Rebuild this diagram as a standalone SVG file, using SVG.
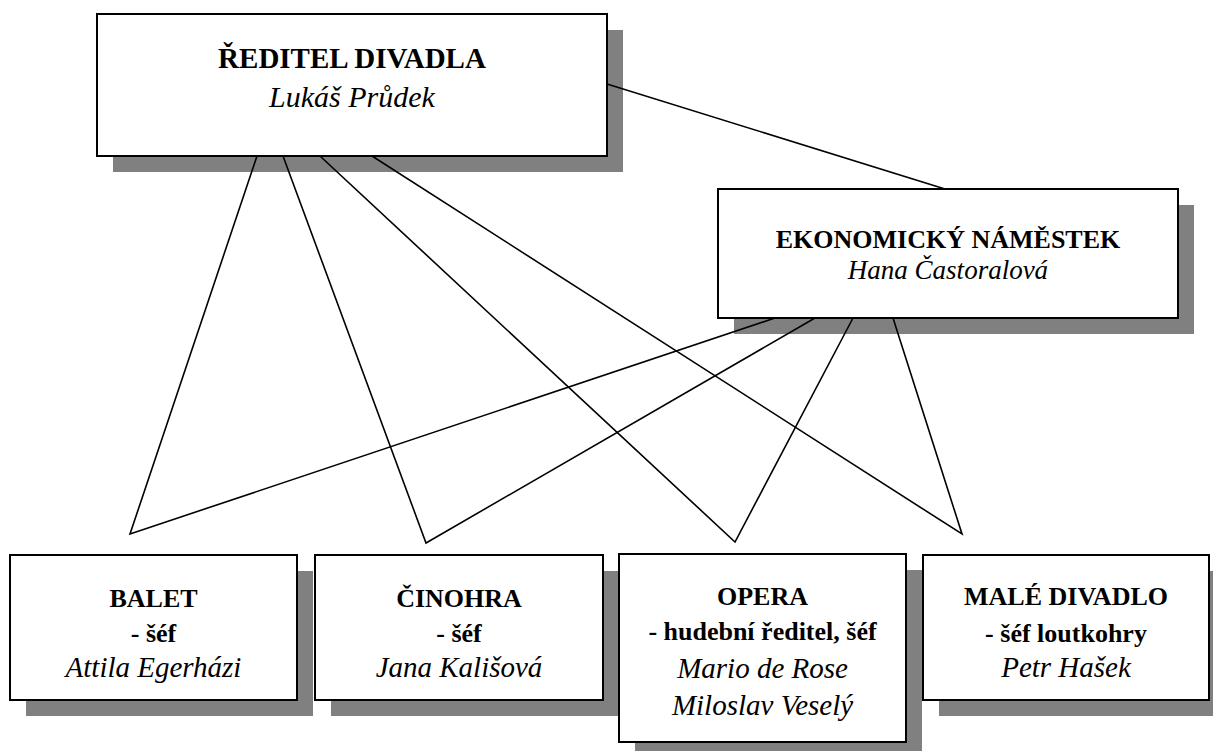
<svg xmlns="http://www.w3.org/2000/svg" width="1213" height="751" viewBox="0 0 1213 751">
<style>
.sh{fill:#808080;stroke:none}
.bx{fill:#fff;stroke:#000;stroke-width:2}
text{font-family:'Liberation Serif','Times New Roman',serif;text-anchor:middle;fill:#000}
.b{font-weight:bold;font-size:26px}
.i{font-style:italic;font-size:29px}
.ln{stroke:#000;stroke-width:1.6;fill:none}
</style>
<rect width="1213" height="751" fill="#fff"/>
<g id="reditel">
<rect class="sh" x="113" y="30" width="510" height="142"/>
<rect class="bx" x="97" y="14" width="510" height="142"/>
<text class="b" x="352" y="68" style="font-size:29px">ŘEDITEL DIVADLA</text>
<text class="i" x="352" y="107" style="font-size:30px">Lukáš Průdek</text>
</g>
<g id="ekonom">
<rect class="sh" x="734" y="205" width="460" height="129"/>
<rect class="bx" x="718" y="189" width="460" height="129"/>
<text class="b" x="948" y="248">EKONOMICKÝ NÁMĚSTEK</text>
<text class="i" x="948" y="279" style="font-size:27px">Hana Častoralová</text>
</g>
<g id="balet">
<rect class="sh" x="26" y="571" width="287" height="145"/>
<rect class="bx" x="10" y="555" width="287" height="145"/>
<text class="b" x="153.5" y="607">BALET</text>
<text class="b" x="153.5" y="642">- šéf</text>
<text class="i" x="153.5" y="677">Attila Egerházi</text>
</g>
<g id="cinohra">
<rect class="sh" x="331" y="571" width="288" height="145"/>
<rect class="bx" x="315" y="555" width="288" height="145"/>
<text class="b" x="459" y="607">ČINOHRA</text>
<text class="b" x="459" y="642">- šéf</text>
<text class="i" x="459" y="677">Jana Kališová</text>
</g>
<g id="opera">
<rect class="sh" x="635" y="570" width="287" height="188"/>
<rect class="bx" x="619" y="554" width="287" height="188"/>
<text class="b" x="762.5" y="605">OPERA</text>
<text class="b" x="762.5" y="640">- hudební ředitel, šéf</text>
<text class="i" x="762.5" y="678">Mario de Rose</text>
<text class="i" x="762.5" y="715">Miloslav Veselý</text>
</g>
<g id="male">
<rect class="sh" x="939" y="571" width="286" height="145"/>
<rect class="bx" x="923" y="555" width="286" height="145"/>
<text class="b" x="1066" y="605">MALÉ DIVADLO</text>
<text class="b" x="1066" y="642">- šéf loutkohry</text>
<text class="i" x="1066" y="677">Petr Hašek</text>
</g>
<g id="connectors">
<line class="ln" x1="607" y1="84" x2="945" y2="189"/>
<polyline class="ln" points="257,156 130,534 775,318"/>
<polyline class="ln" points="283,156 426,543 815,318"/>
<polyline class="ln" points="320,156 735,542 853,318"/>
<polyline class="ln" points="372,156 962,534 893,318"/>
</g>
</svg>
